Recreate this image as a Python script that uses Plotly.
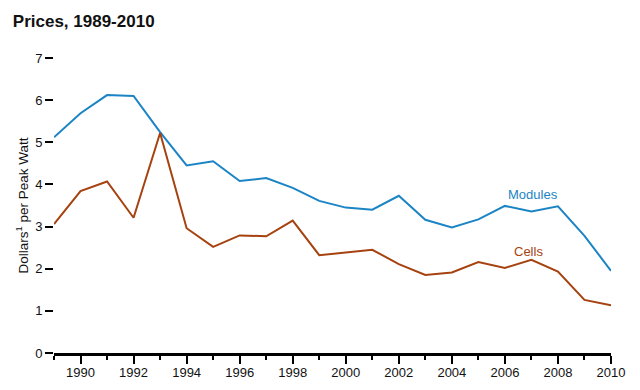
import plotly.graph_objects as go

years = list(range(1989, 2011))
modules = [5.12, 5.69, 6.12, 6.10, 5.24, 4.45, 4.55, 4.08, 4.15, 3.92, 3.61, 3.45,
           3.40, 3.73, 3.16, 2.98, 3.17, 3.49, 3.36, 3.48, 2.78, 1.95]
cells = [3.06, 3.84, 4.07, 3.21, 5.22, 2.96, 2.52, 2.79, 2.77, 3.14, 2.32, 2.39,
         2.45, 2.11, 1.85, 1.91, 2.16, 2.02, 2.21, 1.93, 1.26, 1.13]
x_tick_vals = list(range(1990, 2011, 2))
y_tick_vals = list(range(0, 8))

blue = "#1b84c4"
brown = "#a5420f"
font_family = "Liberation Sans, Arial, sans-serif"

fig = go.Figure()
fig.add_trace(go.Scatter(x=years, y=modules, mode="lines", name="Modules",
                         line=dict(color=blue, width=2)))
fig.add_trace(go.Scatter(x=years, y=cells, mode="lines", name="Cells",
                         line=dict(color=brown, width=2)))

fig.add_annotation(x=2007.06, y=3.76, text="Modules", showarrow=False,
                   font=dict(color=blue, size=13, family=font_family))
fig.add_annotation(x=2006.9, y=2.40, text="Cells", showarrow=False,
                   font=dict(color=brown, size=13, family=font_family))
fig.add_annotation(xref="paper", yref="paper", x=-0.0575, y=0.5,
                   text="Dollars<sup>1</sup> per Peak Watt", textangle=-90,
                   showarrow=False, xanchor="center", yanchor="middle",
                   font=dict(color="#111", size=13.5, family=font_family))

fig.update_layout(
    width=640, height=390,
    margin=dict(l=54, r=29, t=58, b=37, autoexpand=False),
    paper_bgcolor="white", plot_bgcolor="white",
    showlegend=False,
    font=dict(family=font_family, color="#111", size=13),
    title=dict(text="<b>Prices, 1989-2010</b>", xref="container", yref="container",
               x=0.02, xanchor="left", y=1 - 21 / 390, yanchor="middle",
               font=dict(size=17, color="#111", family=font_family)),
    xaxis=dict(range=[1989, 2010], tickmode="array", tickvals=x_tick_vals,
               ticktext=[str(v) for v in x_tick_vals], automargin=False,
               ticks="outside", ticklen=8, tickwidth=2, tickcolor="black",
               ticklabelstandoff=-3,
               showline=True, linecolor="black", linewidth=3,
               showgrid=False, zeroline=False,
               minor=dict(dtick=1, tick0=1989, ticks="outside", ticklen=4,
                          tickwidth=2, tickcolor="black", showgrid=False),
               tickfont=dict(size=13, color="#111")),
    yaxis=dict(range=[0, 7], tickmode="array", tickvals=y_tick_vals,
               automargin=False,
               ticks="outside", ticklen=8, tickwidth=2, tickcolor="black",
               showline=False, showgrid=False, zeroline=False,
               tickfont=dict(size=13, color="#111")),
)

fig.write_html("out.html", config={"displayModeBar": False},
               post_script="document.body.style.margin='0';document.body.style.padding='0';")
